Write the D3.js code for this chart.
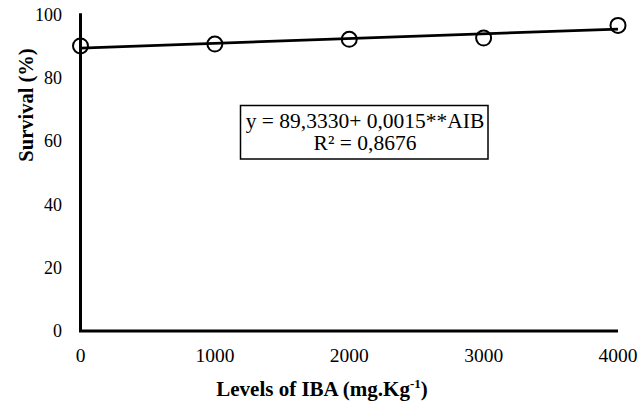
<!DOCTYPE html>
<html><head><meta charset="utf-8">
<script src="https://cdn.jsdelivr.net/npm/d3@7"></script>
<style>body{margin:0;background:#fff}svg{display:block}text{font-family:"Liberation Serif","Times New Roman",serif}</style>
</head><body><svg id="c" width="643" height="407" font-family="Liberation Serif, Times New Roman, serif"></svg>
<script>
const levels = [0, 1000, 2000, 3000, 4000];
const survival = [90.0, 90.6, 92.1, 92.5, 96.5];
const xTicks = [0, 1000, 2000, 3000, 4000];
const yTicks = [0, 20, 40, 60, 80, 100];
const intercept = 89.333, slope = 0.0015;
const eqLines = ["y = 89,3330+ 0,0015**AIB", "R² = 0,8676"];

const svg = d3.select("#c");
const x = d3.scaleLinear().domain([0, 4000]).range([80.5, 618]);
const y = d3.scaleLinear().domain([0, 100]).range([331, 14.3]);

// axes
svg.append("line").attr("x1", x(0)).attr("x2", x(0)).attr("y1", y(100) - 1).attr("y2", y(0)).attr("stroke", "#000").attr("stroke-width", 3);
svg.append("line").attr("x1", x(0) - 1.5).attr("x2", x(4000)).attr("y1", y(0)).attr("y2", y(0)).attr("stroke", "#000").attr("stroke-width", 3);

svg.selectAll(".yt").data(yTicks).enter().append("text")
  .attr("x", 62).attr("y", d => y(d)).attr("dy", "0.35em").attr("text-anchor", "end")
  .attr("font-size", 18).text(d => d);
svg.selectAll(".xt").data(xTicks).enter().append("text")
  .attr("x", d => x(d)).attr("y", 362).attr("text-anchor", "middle")
  .attr("font-size", 19.5).text(d => d);

// titles
const xt = svg.append("text").attr("x", 322).attr("y", 396).attr("text-anchor", "middle")
  .attr("font-size", 21).attr("font-weight", "bold");
xt.append("tspan").text("Levels of IBA (mg.Kg");
xt.append("tspan").attr("dy", -8).attr("font-size", 13).text("-1");
xt.append("tspan").attr("dy", 8).text(")");

svg.append("text").attr("transform", "translate(33,105) rotate(-90)")
  .attr("text-anchor", "middle").attr("font-size", 20.5).attr("font-weight", "bold").text("Survival (%)");

// trend line
svg.append("line").attr("x1", x(0)).attr("x2", x(4000))
  .attr("y1", y(intercept)).attr("y2", y(intercept + slope * 4000))
  .attr("stroke", "#000").attr("stroke-width", 2.8);

// points
svg.selectAll(".pt").data(levels).enter().append("circle")
  .attr("cx", d => x(d)).attr("cy", (d, i) => y(survival[i])).attr("r", 7.5)
  .attr("fill", "none").attr("stroke", "#000").attr("stroke-width", 2);

// equation box
svg.append("rect").attr("x", 240.5).attr("y", 105.5).attr("width", 247.5).attr("height", 53.5)
  .attr("fill", "#fff").attr("stroke", "#000").attr("stroke-width", 1.5);
svg.selectAll(".eq").data(eqLines).enter().append("text")
  .attr("x", 365).attr("y", (d, i) => 128 + i * 22).attr("text-anchor", "middle")
  .attr("font-size", 21.5).text(d => d);
</script></body></html>
